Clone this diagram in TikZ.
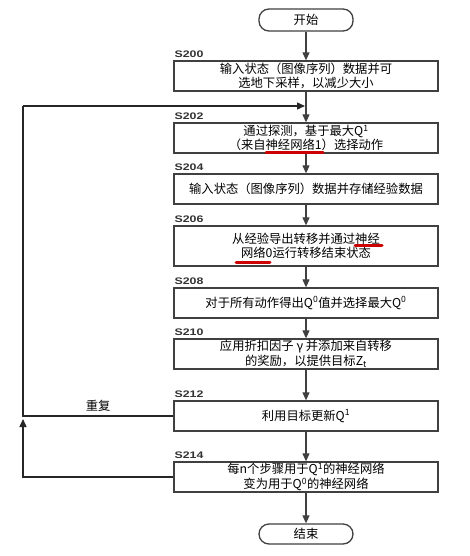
\documentclass[tikz,border=0pt]{standalone}
\usepackage{fontspec}
\newfontfamily\cjk{Noto Sans CJK SC}
\newfontfamily\lab{Liberation Sans}
\usetikzlibrary{arrows.meta}
\tikzset{
  stepbox/.style={draw=black!75, line width=1.3pt, minimum width=264pt, minimum height=30pt, inner sep=0pt, align=center, font=\cjk\fontsize{12.3}{14.5}\selectfont, text=black},
  term/.style={draw=black!75, line width=1.3pt, minimum width=94pt, minimum height=22pt, inner sep=0pt, rounded corners=10pt, font=\cjk\fontsize{12.3}{14}\selectfont},
  steplab/.style={anchor=south west, inner sep=0pt, font=\lab\bfseries\fontsize{9.5}{10}\selectfont, text=black!80},
  conn/.style={draw=black!75, line width=1.1pt, -{Triangle[length=8pt,width=7pt]}},
  loopline/.style={draw=black!85, line width=1.3pt},
  redmark/.style={draw=red!80!black, line width=3pt, line cap=round}
}
\begin{document}
\begin{tikzpicture}[x=1pt,y=-1pt]
\useasboundingbox[fill=white] (0,0) rectangle (469,556);
\node[term] (start) at (306,20) {开始};
\node[stepbox] (s200) at (306,76) {输入状态（图像序列）数据并可\\选地下采样，以减少大小};
\node[stepbox] (s202) at (306,138) {通过探测，基于最大Q\textsuperscript{1}\\（来自神经网络1）选择动作};
\node[stepbox] (s204) at (306,189) {输入状态（图像序列）数据并存储经验数据};
\node[stepbox, minimum height=40pt] (s206) at (306,246) {从经验导出转移并通过神经\\网络0运行转移结束状态};
\node[stepbox] (s208) at (306,303) {对于所有动作得出Q\textsuperscript{0}值并选择最大Q\textsuperscript{0}};
\node[stepbox] (s210) at (306,354) {应用折扣因子 γ 并添加来自转移\\的奖励，以提供目标Z\textsubscript{t}};
\node[stepbox] (s212) at (306,416) {利用目标更新Q\textsuperscript{1}};
\node[stepbox] (s214) at (306,477) {每n个步骤用于Q\textsuperscript{1}的神经网络\\变为用于Q\textsuperscript{0}的神经网络};
\node[term, minimum height=20pt] (end) at (306,534) {结束};

\foreach \n/\t in {s200/S200,s202/S202,s204/S204,s206/S206,s208/S208,s210/S210,s212/S212,s214/S214}
  \node[steplab] (l\n) at ([xshift=1pt,yshift=3pt]\n.north west) {\scalebox{1.3}[1]{\t}};

\draw[conn] (start) -- (s200);
\draw[conn] (s200) -- (s202);
\draw[conn] (s202) -- (s204);
\draw[conn] (s204) -- (s206);
\draw[conn] (s206) -- (s208);
\draw[conn] (s208) -- (s210);
\draw[conn] (s210) -- (s212);
\draw[conn] (s212) -- (s214);
\draw[conn] (s214) -- (end);

\coordinate (j) at (23,416);
\coordinate (tl) at (23,106);
\coordinate (m) at (305,106);
\draw[loopline, -{Triangle[length=8pt,width=7pt]}] (s214.west) -- (23,477) -- ([yshift=-3pt]j);
\draw[loopline] (s212.west) -- node[above=1pt, font=\cjk\fontsize{12.3}{14}\selectfont] (rep) {重复} (j) -- (tl);
\draw[loopline, -{Triangle[length=8pt,width=7pt]}] (tl) -- (m);

\draw[redmark] (266,153) -- (323,153);
\draw[redmark] (355,245) -- (382,245);
\draw[redmark] (236,262) -- (270,262);
\end{tikzpicture}
\end{document}
